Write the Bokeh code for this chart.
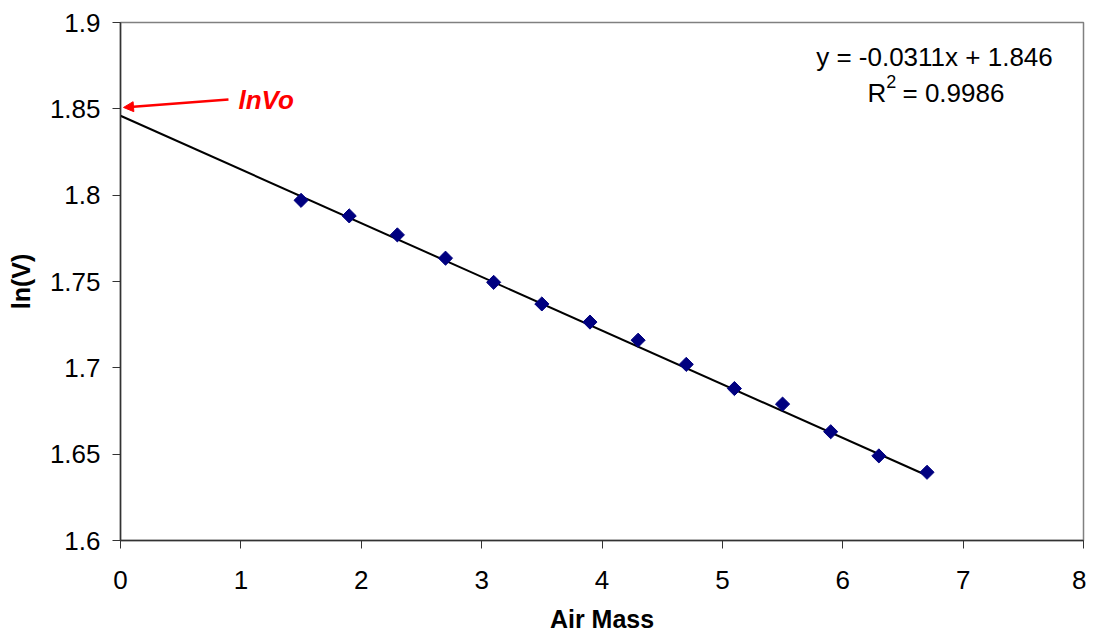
import math
from bokeh.plotting import figure
from bokeh.models import Range1d, FixedTicker, Label, Arrow, NormalHead
from bokeh.embed import file_html
from bokeh.resources import INLINE

air_mass = [1.5, 1.9, 2.3, 2.7, 3.1, 3.5, 3.9, 4.3, 4.7, 5.1, 5.5, 5.9, 6.3, 6.7]
ln_v = [1.797, 1.788, 1.777, 1.7635, 1.7495, 1.737, 1.7265, 1.716, 1.702, 1.688, 1.679, 1.663, 1.649, 1.6395]
slope = -0.0311
intercept = 1.846
fit_x = [0.0, 6.7]
fit_y = [intercept + slope * v for v in fit_x]
x_ticks = [0, 1, 2, 3, 4, 5, 6, 7, 8]
y_ticks = [1.6, 1.65, 1.7, 1.75, 1.8, 1.85, 1.9]
y_tick_labels = ["1.6", "1.65", "1.7", "1.75", "1.8", "1.85", "1.9"]

FONT = "Liberation Sans"

p = figure(width=1086, height=635, output_backend="svg", toolbar_location=None,
           x_range=Range1d(0, 8), y_range=Range1d(1.6, 1.9),
           min_border_left=120, min_border_right=3, min_border_top=22, min_border_bottom=95)
p.xgrid.visible = False
p.ygrid.visible = False
p.outline_line_color = "#808080"
p.outline_line_width = 1.5

p.xaxis.ticker = FixedTicker(ticks=x_ticks)
p.yaxis.ticker = FixedTicker(ticks=y_ticks)
p.yaxis.major_label_overrides = {t: l for t, l in zip(y_ticks, y_tick_labels)}
p.xaxis.major_label_overrides = {t: str(t) for t in x_ticks}
for ax in (p.xaxis, p.yaxis):
    ax.axis_line_color = "#333333"
    ax.axis_line_width = 1.5
    ax.major_tick_line_color = "#333333"
    ax.major_tick_line_width = 1
    ax.major_tick_in = 0
    ax.major_tick_out = 8
    ax.minor_tick_line_color = None
    ax.major_label_text_font = FONT
    ax.major_label_text_font_size = "26px"
    ax.major_label_text_color = "black"
    ax.axis_label_text_font = FONT
    ax.axis_label_text_font_size = "25px"
    ax.axis_label_text_font_style = "bold"
    ax.axis_label_text_color = "black"
p.xaxis.axis_label = "Air Mass"
p.yaxis.axis_label = "ln(V)"
p.xaxis.major_label_standoff = 22
p.yaxis.major_label_standoff = 12
p.xaxis.axis_label_standoff = 13
p.yaxis.axis_label_standoff = 12

p.line(fit_x, fit_y, line_color="black", line_width=2)
p.scatter(air_mass, ln_v, marker="square", size=10, angle=math.pi / 4,
          fill_color="#000080", line_color="#000080")

p.add_layout(Arrow(end=NormalHead(size=10, fill_color="red", line_color="red"),
                   x_start=0.897, y_start=1.8554, x_end=0.025, y_end=1.8508,
                   line_color="red", line_width=2.5))
p.add_layout(Label(x=0.98, y=1.8554, text="lnVo", text_color="red", text_font=FONT,
                   text_font_size="26px", text_font_style="bold italic",
                   text_baseline="alphabetic"))
p.add_layout(Label(x=6.762, y=1.8803, text="y = -0.0311x + 1.846", text_align="center",
                   text_font=FONT, text_font_size="26px", text_color="black",
                   text_baseline="alphabetic"))
p.add_layout(Label(x=6.2056, y=1.8589, text="R", text_align="left",
                   text_font=FONT, text_font_size="26px", text_color="black",
                   text_baseline="alphabetic"))
p.add_layout(Label(x=6.3617, y=1.8658, text="2", text_align="left",
                   text_font=FONT, text_font_size="18px", text_color="black",
                   text_baseline="alphabetic"))
p.add_layout(Label(x=6.4964, y=1.8589, text="= 0.9986", text_align="left",
                   text_font=FONT, text_font_size="26px", text_color="black",
                   text_baseline="alphabetic"))

open("out.html", "w").write(file_html(p, INLINE))
